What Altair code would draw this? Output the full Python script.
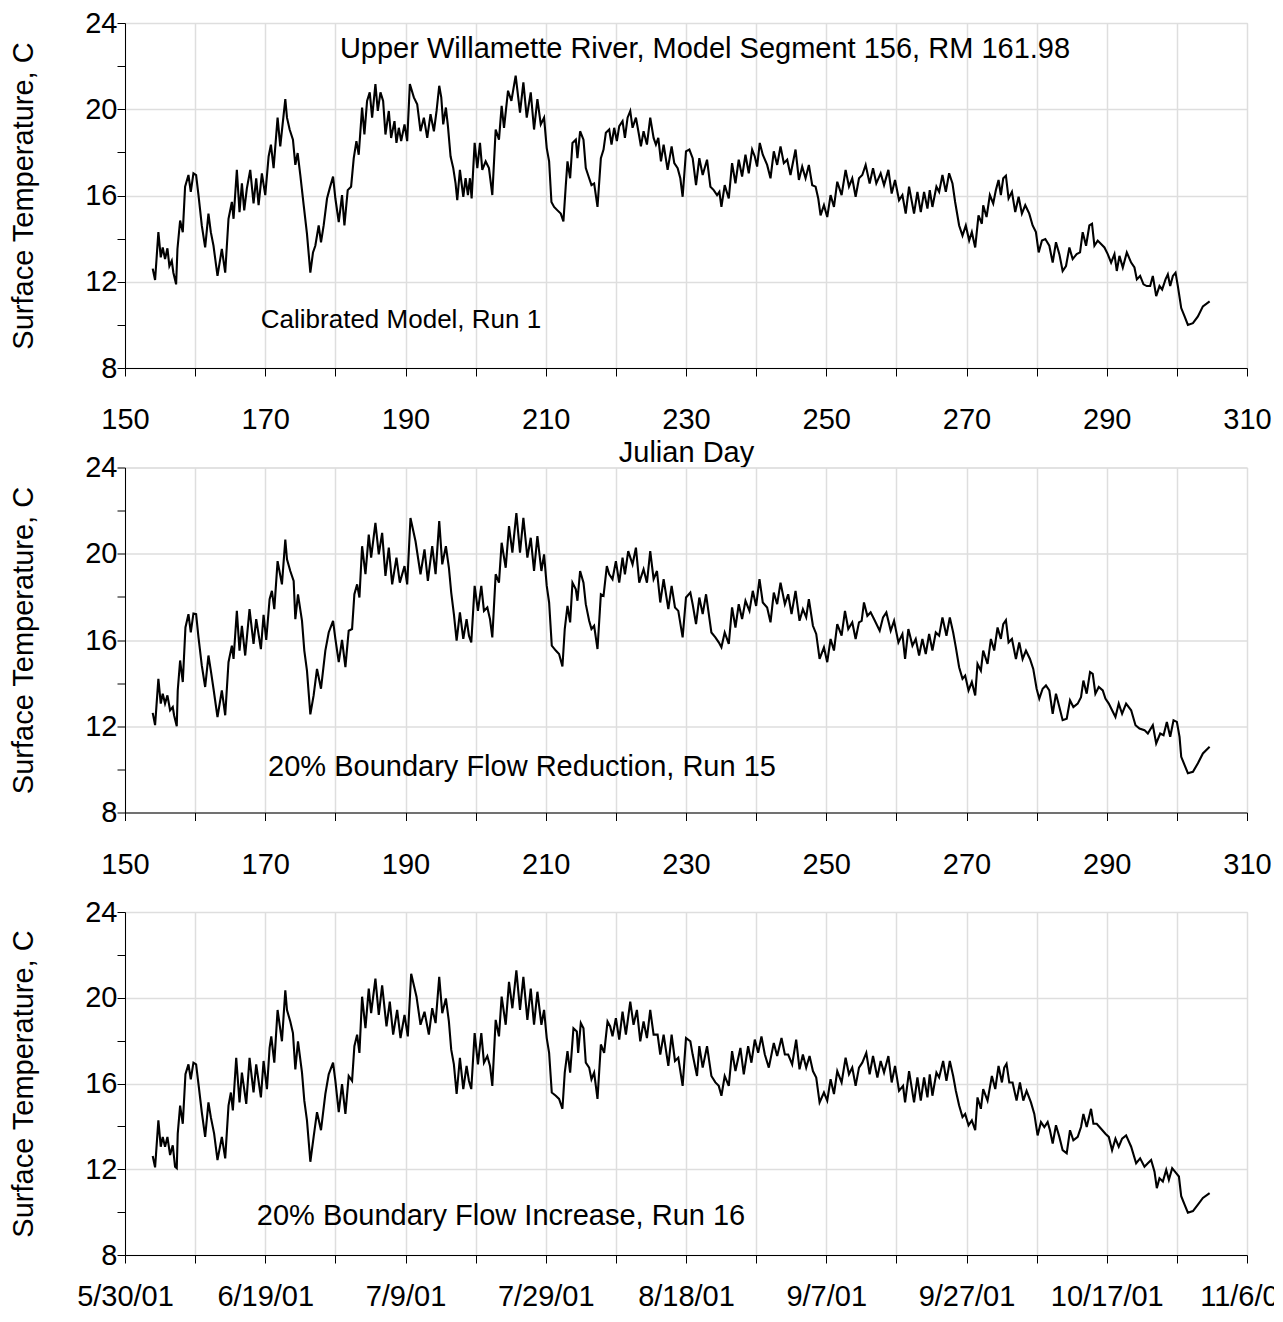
import altair as alt
import pandas as pd

# ---------------- data ----------------
day_run1 = [153.95,154.29,154.76,155.10,155.38,155.71,156.05,156.33,156.67,156.90,157.29,157.48,157.86,158.24,158.57,159.05,159.38,159.76,160.14,160.48,160.95,161.43,161.90,162.24,162.62,163.19,163.81,164.29,164.76,165.24,165.48,165.95,166.33,166.67,167.00,167.38,167.86,168.33,168.71,169.05,169.52,170.00,170.48,170.81,171.19,171.76,172.14,172.86,173.10,173.48,173.95,174.29,174.62,175.00,175.48,175.95,176.43,176.81,177.14,177.62,177.95,178.33,178.81,179.19,179.67,180.00,180.48,180.95,181.29,181.76,182.24,182.62,183.00,183.33,183.81,184.14,184.52,184.90,185.24,185.71,186.05,186.43,186.81,187.14,187.62,187.95,188.43,188.71,189.05,189.38,189.86,190.24,190.62,191.19,191.67,
            192.14,192.62,193.10,193.57,194.05,194.43,194.81,195.10,195.38,195.76,196.05,196.43,196.81,197.14,197.38,197.76,198.24,198.57,198.90,199.19,199.43,199.86,200.24,200.62,200.95,201.43,201.90,202.38,202.86,203.33,203.71,204.05,204.62,205.10,205.71,206.33,206.81,207.29,207.86,208.33,208.81,209.29,209.76,210.14,210.48,210.81,211.19,211.67,212.14,212.52,212.86,213.10,213.48,213.81,214.29,214.52,214.90,215.38,215.71,216.19,216.52,216.90,217.38,217.86,218.24,218.57,219.05,219.38,219.76,220.14,220.48,220.95,221.29,221.67,222.05,222.38,222.86,223.33,223.57,223.95,224.43,224.90,225.38,225.71,226.05,226.43,226.81,227.38,227.95,228.33,228.81,229.19,229.52,230.00,230.48,230.95,231.43,231.90,232.38,233.00,
            233.48,233.95,234.43,234.76,235.05,235.52,236.10,236.57,237.05,237.52,238.00,238.48,238.95,239.43,239.81,240.14,240.52,240.95,241.57,242.05,242.52,243.00,243.48,243.95,244.43,244.90,245.62,246.10,246.57,247.05,247.52,248.00,248.48,248.86,249.19,249.67,250.14,250.62,251.10,251.57,252.19,252.76,253.24,253.71,254.19,254.67,255.14,255.62,256.19,256.67,257.14,257.76,258.24,258.86,259.33,259.81,260.38,260.86,261.33,261.81,262.52,263.00,263.48,263.95,264.43,264.76,265.14,265.71,266.10,266.57,267.05,267.52,268.00,268.38,268.95,269.43,269.90,270.38,270.76,271.24,271.71,272.19,
            272.38,272.86,273.33,273.81,274.19,274.57,274.90,275.24,275.62,276.00,276.48,276.95,277.43,277.90,278.38,278.95,279.43,279.90,280.29,280.76,281.24,281.81,282.29,282.76,283.24,283.71,284.19,284.67,285.14,285.71,286.19,286.57,287.05,287.52,287.90,288.24,288.71,289.19,289.67,290.14,290.62,291.10,291.43,291.81,292.29,292.86,293.48,293.95,294.29,294.76,295.24,295.71,296.19,296.57,297.05,297.52,297.90,298.38,298.71,299.05,299.43,299.81,300.14,300.62,301.10,301.57,302.29,303.00,303.71,304.67]
temp_run1 = [12.61,12.08,14.30,13.13,13.59,13.05,13.55,12.73,12.97,12.42,11.88,13.52,14.84,14.30,16.41,16.95,16.17,17.03,16.95,16.02,14.61,13.59,15.16,14.30,13.67,12.27,13.52,12.42,14.92,15.70,14.92,17.19,15.23,16.56,15.31,16.33,17.19,15.63,16.80,15.55,17.03,16.02,17.81,18.36,17.27,19.61,18.28,20.47,19.61,19.06,18.59,17.42,17.97,16.95,15.55,14.22,12.42,13.36,13.67,14.61,13.83,14.61,15.86,16.33,16.88,15.86,14.77,16.02,14.61,16.25,16.41,17.73,18.52,17.89,20.08,18.83,20.39,20.78,19.61,21.17,19.92,20.78,20.39,18.83,19.92,18.67,19.45,18.44,19.14,18.52,19.30,18.52,21.17,20.55,20.23,
             18.98,19.61,18.67,19.77,18.98,19.92,21.09,20.55,19.30,20.08,19.22,17.81,17.27,16.56,15.78,17.19,15.94,16.80,16.02,16.80,15.86,18.44,17.27,18.44,17.19,17.58,17.27,16.02,19.06,18.59,20.16,19.14,20.86,20.39,21.56,19.84,21.25,19.61,20.78,19.06,20.47,19.30,19.61,18.20,17.58,15.70,15.47,15.31,15.16,14.80,16.48,17.58,16.80,18.44,18.59,17.73,18.98,18.59,17.27,16.80,16.48,16.56,15.47,17.73,18.13,18.91,19.06,18.36,19.14,18.52,19.22,19.45,18.67,19.61,19.92,19.14,19.61,18.75,18.28,18.98,18.36,19.61,18.67,18.36,18.67,17.58,18.36,17.19,18.28,17.50,17.27,16.80,15.94,18.05,18.13,17.73,16.48,17.73,16.95,17.66,
             16.41,16.25,16.02,16.17,15.47,16.48,15.86,17.50,16.56,17.66,16.88,17.89,17.03,18.13,17.81,17.34,18.44,17.89,17.42,16.80,18.05,17.42,18.28,17.50,17.66,16.95,18.13,16.72,17.34,16.80,17.42,16.48,16.41,15.86,15.08,15.55,15.00,16.02,15.47,16.64,16.02,17.19,16.41,16.80,15.94,16.80,16.95,17.42,16.56,17.27,16.56,17.03,16.48,17.19,16.09,16.72,15.78,16.02,15.16,16.41,15.16,16.17,15.23,16.17,15.39,16.25,15.47,16.41,16.17,16.95,16.17,17.03,16.56,15.70,14.61,14.14,14.61,13.91,14.30,13.59,15.08,14.69,
             15.55,15.00,16.02,15.63,16.25,16.72,16.02,16.80,16.92,15.86,16.17,15.23,15.94,15.16,15.55,15.16,14.61,14.30,13.36,13.91,13.98,13.67,12.89,13.83,13.28,12.50,12.73,13.59,13.05,13.28,13.36,14.30,13.67,14.61,14.69,13.67,13.91,13.75,13.59,13.28,12.89,13.28,12.50,13.20,12.66,13.36,12.89,12.66,12.11,12.27,11.88,11.80,11.80,12.27,11.33,11.80,11.64,12.11,12.34,11.80,12.27,12.42,11.80,10.78,10.39,10.00,10.08,10.39,10.86,11.09]

day_run15 = [153.95,154.29,154.76,155.10,155.38,155.71,156.05,156.43,156.81,157.00,157.38,157.52,157.86,158.24,158.62,159.05,159.38,159.76,160.14,160.48,160.95,161.43,161.90,162.24,162.62,163.19,163.81,164.29,164.76,165.24,165.48,165.95,166.33,166.67,167.14,167.76,168.33,168.71,169.38,169.76,170.14,170.62,170.95,171.29,171.76,172.38,172.86,173.10,173.57,174.05,174.29,174.67,175.24,175.57,175.95,176.43,176.90,177.38,177.95,178.57,179.05,179.67,180.00,180.48,180.95,181.43,181.90,182.38,182.71,183.10,183.43,183.81,184.29,184.76,185.10,185.71,186.19,186.67,187.14,187.62,188.10,188.71,189.19,189.86,190.24,190.71,191.43,
             192.14,192.71,193.19,193.81,194.29,194.81,195.24,195.76,196.19,196.52,196.90,197.29,197.76,198.24,198.71,199.05,199.38,199.86,200.33,200.81,201.19,201.67,202.05,202.38,202.86,203.33,203.71,204.29,204.76,205.24,205.81,206.33,206.81,207.38,207.86,208.33,208.81,209.38,209.76,210.14,210.48,210.86,211.43,211.90,212.38,212.71,213.10,213.48,213.81,214.29,214.52,214.90,215.38,215.71,216.19,216.52,216.90,217.38,217.86,218.24,218.71,219.05,219.52,220.00,220.48,220.95,221.29,221.76,222.38,222.86,223.33,223.95,224.43,224.90,225.38,225.86,226.33,226.81,227.48,227.95,228.43,228.90,229.52,230.00,230.62,230.95,231.43,231.90,232.38,232.86,
             233.62,234.19,234.67,235.05,235.52,236.10,236.57,237.05,237.52,238.00,238.48,239.05,239.52,240.00,240.48,240.95,241.57,242.05,242.52,243.00,243.48,244.10,244.57,245.05,245.62,246.19,246.67,247.14,247.52,248.10,248.57,249.05,249.67,250.14,250.62,251.10,251.57,252.19,252.67,253.14,253.71,254.19,254.67,255.05,255.38,255.86,256.33,256.81,257.62,258.10,258.57,259.19,259.67,260.29,260.86,261.24,261.71,262.29,262.76,263.24,263.71,264.19,264.67,265.14,265.62,266.10,266.57,267.14,267.62,268.10,268.48,268.95,269.43,269.81,270.29,270.76,271.24,271.57,272.05,
             272.38,273.00,273.48,273.95,274.43,274.90,275.24,275.62,276.00,276.48,277.05,277.52,278.00,278.48,279.05,279.52,280.00,280.38,280.86,281.33,281.81,282.29,282.76,283.24,283.71,284.29,284.76,285.24,285.86,286.33,286.67,287.14,287.62,288.00,288.38,288.86,289.43,289.81,290.29,290.76,291.24,291.71,292.19,292.76,293.48,294.10,294.67,295.38,295.86,296.57,297.05,297.62,298.10,298.57,299.05,299.52,300.00,300.38,300.62,301.10,301.57,302.29,303.00,303.71,304.67]
temp_run15 = [12.62,12.05,14.20,13.05,13.51,13.05,13.43,12.74,12.89,12.51,12.00,13.66,15.05,14.05,16.58,17.20,16.35,17.23,17.20,16.12,14.82,13.82,15.28,14.58,13.74,12.43,13.66,12.51,14.97,15.74,15.12,17.35,15.51,16.66,15.28,17.43,15.82,16.97,15.58,17.17,16.00,17.89,18.28,17.43,19.66,18.58,20.66,19.74,19.20,18.74,16.97,18.12,16.89,15.51,14.58,12.55,13.43,14.66,13.74,15.51,16.35,16.89,16.05,14.97,16.00,14.74,16.43,16.51,18.12,18.58,17.97,20.35,19.05,20.89,19.82,21.43,19.97,20.97,18.97,20.28,18.58,19.82,18.66,19.43,18.58,21.66,20.58,
              19.05,20.20,18.74,20.35,19.05,21.51,19.51,20.35,19.35,18.20,17.20,15.97,17.28,16.05,16.97,16.20,15.89,18.51,17.35,18.51,17.35,17.51,16.97,16.12,19.05,18.66,20.51,19.35,21.28,20.05,21.89,20.05,21.66,19.82,20.74,19.20,20.82,19.20,19.97,18.51,17.74,15.74,15.51,15.35,14.77,16.51,17.58,16.82,18.66,18.35,17.82,19.20,18.66,17.66,16.89,16.51,16.66,15.58,18.12,18.05,19.43,19.05,18.82,19.66,18.66,19.82,19.05,20.12,19.51,20.28,18.66,19.28,18.66,20.12,18.82,19.20,17.74,18.82,17.43,18.51,17.51,17.35,16.12,17.97,18.20,17.66,16.74,17.97,17.20,18.12,
              16.35,16.12,15.89,15.66,16.35,15.82,17.51,16.58,17.66,16.97,17.82,17.35,18.28,17.58,18.82,17.74,17.51,16.82,18.20,17.66,18.66,17.66,18.12,17.20,18.28,16.89,17.43,17.05,17.89,16.66,16.28,15.12,15.66,14.97,16.05,15.51,16.74,16.20,17.35,16.51,16.82,16.05,16.82,16.89,17.74,17.12,17.28,16.97,16.43,17.05,17.28,16.43,16.89,15.89,16.28,15.12,16.51,15.74,16.05,15.28,16.05,15.35,16.28,15.51,16.35,16.20,17.05,16.20,17.05,16.35,15.66,14.74,14.20,14.35,13.66,14.05,13.43,14.89,14.58,
              15.51,14.89,16.05,15.51,16.58,16.05,16.74,16.92,15.89,16.05,15.12,15.89,15.12,15.51,15.12,14.66,13.74,13.28,13.74,13.89,13.66,12.58,13.51,12.89,12.28,12.35,13.20,12.89,13.05,13.35,14.12,13.51,14.51,14.43,13.51,13.82,13.66,13.28,13.05,12.74,12.43,13.05,12.58,13.05,12.74,12.05,11.89,11.82,11.66,12.05,11.20,11.66,11.58,12.20,11.51,12.28,12.20,11.51,10.58,10.20,9.82,9.89,10.28,10.74,11.05]

day_run16 = [153.95,154.29,154.76,155.10,155.38,155.71,156.05,156.43,156.81,157.14,157.38,157.52,157.86,158.24,158.62,159.05,159.38,159.76,160.14,160.48,160.95,161.43,161.90,162.24,162.71,163.19,163.81,164.29,164.76,165.10,165.38,165.86,166.33,166.67,167.29,167.76,168.33,168.71,169.38,169.76,170.24,170.62,170.86,171.29,171.76,172.38,172.86,173.10,173.57,173.95,174.29,174.67,175.24,175.57,175.95,176.43,176.90,177.38,177.95,178.57,179.05,179.67,180.00,180.48,180.95,181.43,181.90,182.38,182.71,183.10,183.43,183.81,184.29,184.76,185.10,185.71,186.19,186.67,187.29,187.76,188.24,188.81,189.29,189.86,190.33,190.81,191.57,
             192.14,192.71,193.33,193.81,194.29,194.81,195.24,195.76,196.19,196.52,196.90,197.29,197.76,198.24,198.71,199.05,199.38,199.86,200.33,200.81,201.19,201.67,202.05,202.38,202.86,203.33,203.71,204.29,204.76,205.24,205.81,206.33,206.81,207.38,207.86,208.33,208.81,209.38,209.76,210.14,210.48,210.86,211.43,211.90,212.38,212.71,213.10,213.48,213.95,214.43,214.62,215.00,215.38,215.71,216.19,216.52,216.90,217.38,217.86,218.33,218.81,219.19,219.52,220.00,220.48,220.95,221.43,222.05,222.52,223.00,223.48,223.95,224.43,224.90,225.38,225.95,226.33,226.81,227.48,227.95,228.43,228.90,229.52,230.00,230.62,230.95,231.57,231.90,232.38,233.00,
             233.62,234.19,234.67,235.05,235.52,236.10,236.57,237.05,237.76,238.24,238.86,239.33,239.81,240.29,240.76,241.24,241.81,242.52,243.00,243.62,244.10,244.57,245.14,245.71,246.19,246.67,247.14,247.62,248.10,248.57,249.05,249.67,250.14,250.62,251.10,251.57,252.19,252.76,253.24,253.71,254.19,254.67,255.14,255.71,256.19,256.67,257.29,257.76,258.24,258.86,259.33,259.81,260.38,260.95,261.24,261.81,262.52,263.00,263.48,263.95,264.43,264.76,265.14,265.71,266.10,266.67,267.14,267.62,268.10,268.48,268.95,269.43,269.81,270.29,270.76,271.24,271.57,272.05,
             272.38,273.00,273.62,274.10,274.57,275.05,275.38,275.71,276.10,276.57,277.14,277.62,278.10,278.57,279.19,279.67,280.14,280.62,281.10,281.57,281.90,282.29,282.76,283.24,283.71,284.29,284.76,285.24,285.86,286.33,286.67,287.14,287.76,288.10,288.57,289.19,289.81,290.29,290.76,291.24,291.71,292.19,292.76,293.48,294.19,294.76,295.38,295.86,296.33,296.81,297.14,297.52,298.00,298.48,298.86,299.33,299.90,300.29,300.62,301.10,301.57,302.29,303.00,303.71,304.67]
temp_run16 = [12.62,12.09,14.28,13.05,13.51,13.05,13.51,12.66,13.12,12.12,12.05,13.66,14.97,14.12,16.43,16.89,16.20,16.97,16.89,15.97,14.66,13.51,15.12,14.43,13.66,12.43,13.51,12.51,14.97,15.58,14.74,17.20,15.12,16.51,15.05,17.20,15.58,16.89,15.35,17.05,15.74,17.66,18.20,16.97,19.43,17.97,20.35,19.43,18.89,18.35,16.66,17.97,16.51,15.20,14.28,12.35,13.51,14.66,13.82,15.51,16.43,16.97,16.12,14.66,15.97,14.58,16.35,16.12,17.74,18.28,17.43,20.05,18.58,20.43,19.28,20.89,19.20,20.58,18.66,19.82,18.28,19.43,18.12,19.20,18.20,21.12,20.05,
              18.74,19.35,18.28,19.51,18.82,20.97,19.28,19.97,18.89,17.58,16.89,15.51,17.20,15.74,16.82,16.12,15.74,18.35,16.89,18.35,16.97,17.28,16.82,15.89,18.97,18.20,20.05,18.74,20.74,19.51,21.28,19.43,20.97,18.97,20.43,18.74,20.28,18.74,19.43,18.12,17.43,15.58,15.43,15.28,14.82,16.51,17.51,16.51,18.58,18.43,17.43,18.82,18.58,16.97,16.74,16.20,16.51,15.28,17.82,17.43,18.89,18.66,18.20,19.05,18.05,19.35,18.28,19.82,18.74,19.43,17.97,18.89,18.12,19.43,18.28,18.28,17.35,18.28,16.82,18.28,17.05,17.20,15.89,18.12,17.97,17.35,16.35,17.74,16.74,17.74,
              16.35,16.05,15.89,15.43,16.35,15.89,17.51,16.58,17.66,16.43,17.74,16.97,18.05,17.43,18.20,17.35,16.74,17.89,17.28,18.12,17.35,17.35,16.89,18.05,16.66,17.35,16.74,17.28,16.58,16.28,15.12,15.58,15.20,16.20,15.51,16.58,16.05,17.20,16.43,16.74,15.89,16.74,16.97,17.43,16.43,17.28,16.28,17.05,16.51,17.28,16.05,16.82,15.66,15.89,15.12,16.58,15.12,16.28,15.20,16.28,15.35,16.43,15.43,16.51,16.28,17.05,16.12,17.05,16.35,15.66,14.97,14.43,14.58,14.05,14.28,13.82,15.35,14.82,
              15.74,15.20,16.35,15.74,16.82,16.05,16.74,16.92,16.05,16.05,15.20,16.05,15.20,15.66,15.12,14.58,13.58,14.20,13.97,14.20,13.82,13.20,14.05,13.51,12.89,12.74,13.82,13.35,13.51,13.97,14.58,13.97,14.82,14.12,14.12,13.89,13.66,13.51,12.89,13.43,13.05,13.43,13.58,13.05,12.28,12.51,12.12,12.28,12.43,11.89,11.12,11.58,11.43,11.97,11.51,12.05,11.82,11.66,10.74,10.35,9.97,10.05,10.35,10.66,10.89]

panel_notes = ["Calibrated Model, Run 1",
               "20% Boundary Flow Reduction, Run 15",
               "20% Boundary Flow Increase, Run 16"]
header_text = "Upper Willamette River, Model Segment 156, RM 161.98"
x_tick_values = list(range(150, 311, 10))
y_tick_values = list(range(8, 25, 2))

# ---------------- styling ----------------
FONT = "Liberation Sans"
FS = 29
W = 1122
HEIGHTS = [345, 345, 343]


def make_panel(days, temps, note, note_xy, note_fs, height, x_mode):
    df = pd.DataFrame({"day": days, "temp": temps})
    common = dict(
        values=x_tick_values, grid=True, gridColor="#dedede", gridWidth=1.5,
        domainColor="black", domainWidth=1, tickColor="black", tickSize=8,
        tickWidth=1, labelFont=FONT, labelFontSize=FS, labelColor="black",
        titleFont=FONT, titleFontSize=FS, titleFontWeight="normal",
        titleColor="black", labelAngle=0, labelFlush=False, labelOverlap=False,
    )
    if x_mode == "julian":
        xaxis = alt.Axis(title="Julian Day", titlePadding=4, labelPadding=29,
                         labelExpr="datum.value % 20 == 10 ? datum.label : ''",
                         **common)
    elif x_mode == "plain":
        xaxis = alt.Axis(title=None, labelPadding=30,
                         labelExpr="datum.value % 20 == 10 ? datum.label : ''",
                         **common)
    else:
        xaxis = alt.Axis(title=None, labelPadding=19,
                         labelExpr="datum.value % 20 == 10 ? timeFormat(datetime(2001, 0, datum.value), '%-m/%-d/%y') : ''",
                         **common)
    yaxis = alt.Axis(
        values=y_tick_values, title="Surface Temperature, C",
        labelExpr="datum.value % 4 == 0 ? datum.label : ''",
        grid=True, gridColor="#dedede", gridWidth=1.5,
        gridOpacity={"condition": {"test": "datum.value % 4 == 0", "value": 1}, "value": 0},
        domainColor="black", domainWidth=1, tickColor="black", tickSize=8,
        tickWidth=1, labelFont=FONT, labelFontSize=FS, labelColor="black",
        labelPadding=0, titleFont=FONT, titleFontSize=FS,
        titleFontWeight="normal", titleColor="black", titlePadding=46,
    )
    line = alt.Chart(df).mark_line(color="black", strokeWidth=2.1).encode(
        x=alt.X("day:Q", scale=alt.Scale(domain=[150, 310], nice=False, zero=False), axis=xaxis),
        y=alt.Y("temp:Q", scale=alt.Scale(domain=[8, 24], nice=False, zero=False), axis=yaxis),
    )
    layers = [line]
    note_df = pd.DataFrame({"t": [note]})
    layers.append(
        alt.Chart(note_df).mark_text(font=FONT, fontSize=note_fs, color="black",
                                     align="center", baseline="middle").encode(
            text="t:N", x=alt.value(note_xy[0]), y=alt.value(note_xy[1]))
    )
    if x_mode == "julian":
        head_df = pd.DataFrame({"t": [header_text]})
        layers.append(
            alt.Chart(head_df).mark_text(font=FONT, fontSize=FS, color="black",
                                         align="center", baseline="middle").encode(
                text="t:N", x=alt.value(580), y=alt.value(26))
        )
    return alt.layer(*layers).properties(width=W, height=height)


p1 = make_panel(day_run1, temp_run1, panel_notes[0], (276, 297), 26, HEIGHTS[0], "julian")
p2 = make_panel(day_run15, temp_run15, panel_notes[1], (397, 299.5), FS, HEIGHTS[1], "plain")
p3 = make_panel(day_run16, temp_run16, panel_notes[2], (376, 304), FS, HEIGHTS[2], "date")

# negative right padding: the last date label runs past the page edge and is
# clipped there, as in the reference
chart = alt.vconcat(p1, p2, p3, spacing=99.5, bounds="flush").properties(
    padding={"left": 1, "top": 0, "right": -21, "bottom": 0}
).configure_view(strokeWidth=0).configure(background="white")

chart.save("out.html", embed_options={"renderer": "svg", "actions": False})
